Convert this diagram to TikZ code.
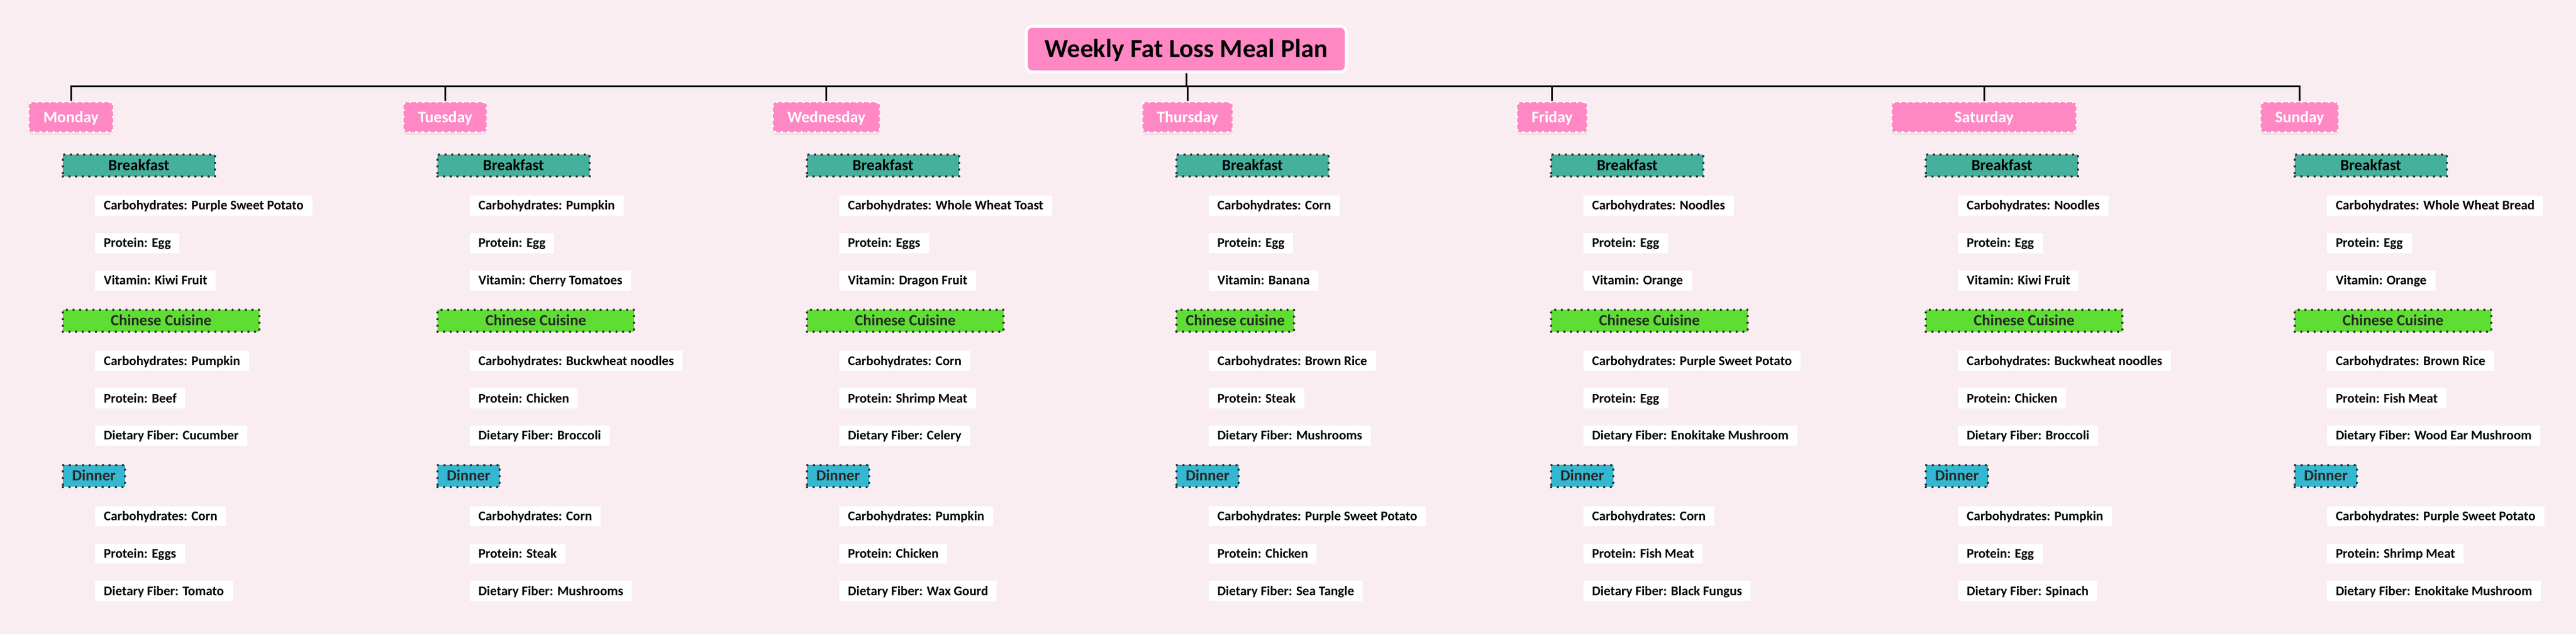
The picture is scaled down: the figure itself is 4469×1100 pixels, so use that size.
\documentclass[tikz,border=0pt]{standalone}
\usepackage{fontspec}
\setmainfont{Carlito}
\usetikzlibrary{positioning,shadows}
\definecolor{mybg}{RGB}{250,237,241}
\definecolor{mypink}{RGB}{255,136,196}
\definecolor{myteal}{RGB}{69,176,156}
\definecolor{mygreen}{RGB}{94,221,50}
\definecolor{mycyan}{RGB}{52,183,208}
\definecolor{mydots}{RGB}{43,43,43}
\definecolor{mytxt}{RGB}{40,40,40}
\tikzstyle{root}=[draw=white,fill=mypink,line width=5pt,rounded corners=10pt,font=\bfseries\fontsize{45pt}{50pt}\selectfont,minimum height=79pt,inner xsep=32pt,inner ysep=0pt,text height=29pt,text depth=0pt]
\tikzstyle{day}=[draw=white,fill=mypink,line width=4pt,dash pattern=on 0pt off 11.5pt,line cap=round,rounded corners=6pt,text=white,font=\bfseries\fontsize{28pt}{32pt}\selectfont,minimum height=52pt,inner xsep=25pt,inner ysep=0pt,text height=18pt,text depth=0pt,drop shadow={opacity=0.10,shadow xshift=0pt,shadow yshift=-5pt}]
\tikzstyle{meal}=[draw=mydots,line width=4pt,dash pattern=on 0pt off 11.5pt,line cap=round,font=\bfseries\fontsize{27pt}{31pt}\selectfont,minimum height=38pt,inner xsep=16pt,inner ysep=0pt,text height=17pt,text depth=0pt]
\tikzstyle{bfast}=[meal,fill=myteal,minimum width=264pt,text=black]
\tikzstyle{lunch}=[meal,fill=mygreen,minimum width=341pt,text=mytxt]
\tikzstyle{dinner}=[meal,fill=mycyan,text=mytxt]
\tikzstyle{item}=[fill=white,font=\bfseries\fontsize{23pt}{27pt}\selectfont,minimum height=34.5pt,inner xsep=15pt,inner ysep=0pt,text height=15pt,text depth=0pt]
\tikzstyle{link}=[draw,line width=3pt]
% one meal box with its three items under it
\newcommand{\meal}[6]{%
  \node[#2] (#1) {#3};
  \node[item,below=31pt of #1.south west,anchor=north west,xshift=58pt] (#1a) {#4};
  \node[item,below=30pt of #1a.south west,anchor=north west] (#1b) {#5};
  \node[item,below=30pt of #1b.south west,anchor=north west] (#1c) {#6};
}
\begin{document}
\begin{tikzpicture}[x=1pt,y=-1pt]
\fill[mybg] (0,0) rectangle (4469,1100);
\node[root] (root) at (2058,85) {Weekly Fat Loss Meal Plan};
% days
\node[day,anchor=west] (mon) at (48,203) {Monday};
\node[day,anchor=west] (tue) at (698,203) {Tuesday};
\node[day,anchor=west] (wed) at (1339,203) {Wednesday};
\node[day,anchor=west] (thu) at (1980,203) {Thursday};
\node[day,anchor=west] (fri) at (2630,203) {Friday};
\node[day,anchor=west,minimum width=320pt] (sat) at (3280,203) {Saturday};
\node[day,anchor=west] (sun) at (3920,203) {Sunday};
% connectors
\coordinate (bus) at (0,149);
\draw[link] (root.south) -- (root.south |- bus);
\draw[link] (mon.north) |- (sun.north |- bus) -- (sun.north);
\foreach \d in {tue,wed,thu,fri,sat}
  \draw[link] (\d.north |- bus) -- (\d.north);
% Monday
\meal{monB}{bfast,below=35pt of mon.south west,anchor=north west,xshift=59pt}{Breakfast}
  {Carbohydrates: Purple Sweet Potato}{Protein: Egg}{Vitamin: Kiwi Fruit}
\meal{monL}{lunch,below=31.5pt of monBc.south west,anchor=north west,xshift=-58pt}{Chinese Cuisine}
  {Carbohydrates: Pumpkin}{Protein: Beef}{Dietary Fiber: Cucumber}
\meal{monD}{dinner,below=31.5pt of monLc.south west,anchor=north west,xshift=-58pt}{Dinner}
  {Carbohydrates: Corn}{Protein: Eggs}{Dietary Fiber: Tomato}
% Tuesday
\meal{tueB}{bfast,below=35pt of tue.south west,anchor=north west,xshift=59pt}{Breakfast}
  {Carbohydrates: Pumpkin}{Protein: Egg}{Vitamin: Cherry Tomatoes}
\meal{tueL}{lunch,below=31.5pt of tueBc.south west,anchor=north west,xshift=-58pt}{Chinese Cuisine}
  {Carbohydrates: Buckwheat noodles}{Protein: Chicken}{Dietary Fiber: Broccoli}
\meal{tueD}{dinner,below=31.5pt of tueLc.south west,anchor=north west,xshift=-58pt}{Dinner}
  {Carbohydrates: Corn}{Protein: Steak}{Dietary Fiber: Mushrooms}
% Wednesday
\meal{wedB}{bfast,below=35pt of wed.south west,anchor=north west,xshift=59pt}{Breakfast}
  {Carbohydrates: Whole Wheat Toast}{Protein: Eggs}{Vitamin: Dragon Fruit}
\meal{wedL}{lunch,below=31.5pt of wedBc.south west,anchor=north west,xshift=-58pt}{Chinese Cuisine}
  {Carbohydrates: Corn}{Protein: Shrimp Meat}{Dietary Fiber: Celery}
\meal{wedD}{dinner,below=31.5pt of wedLc.south west,anchor=north west,xshift=-58pt}{Dinner}
  {Carbohydrates: Pumpkin}{Protein: Chicken}{Dietary Fiber: Wax Gourd}
% Thursday
\meal{thuB}{bfast,below=35pt of thu.south west,anchor=north west,xshift=59pt}{Breakfast}
  {Carbohydrates: Corn}{Protein: Egg}{Vitamin: Banana}
\meal{thuL}{lunch,minimum width=0pt,below=31.5pt of thuBc.south west,anchor=north west,xshift=-58pt}{Chinese cuisine}
  {Carbohydrates: Brown Rice}{Protein: Steak}{Dietary Fiber: Mushrooms}
\meal{thuD}{dinner,below=31.5pt of thuLc.south west,anchor=north west,xshift=-58pt}{Dinner}
  {Carbohydrates: Purple Sweet Potato}{Protein: Chicken}{Dietary Fiber: Sea Tangle}
% Friday
\meal{friB}{bfast,below=35pt of fri.south west,anchor=north west,xshift=59pt}{Breakfast}
  {Carbohydrates: Noodles}{Protein: Egg}{Vitamin: Orange}
\meal{friL}{lunch,below=31.5pt of friBc.south west,anchor=north west,xshift=-58pt}{Chinese Cuisine}
  {Carbohydrates: Purple Sweet Potato}{Protein: Egg}{Dietary Fiber: Enokitake Mushroom}
\meal{friD}{dinner,below=31.5pt of friLc.south west,anchor=north west,xshift=-58pt}{Dinner}
  {Carbohydrates: Corn}{Protein: Fish Meat}{Dietary Fiber: Black Fungus}
% Saturday
\meal{satB}{bfast,below=35pt of sat.south west,anchor=north west,xshift=59pt}{Breakfast}
  {Carbohydrates: Noodles}{Protein: Egg}{Vitamin: Kiwi Fruit}
\meal{satL}{lunch,below=31.5pt of satBc.south west,anchor=north west,xshift=-58pt}{Chinese Cuisine}
  {Carbohydrates: Buckwheat noodles}{Protein: Chicken}{Dietary Fiber: Broccoli}
\meal{satD}{dinner,below=31.5pt of satLc.south west,anchor=north west,xshift=-58pt}{Dinner}
  {Carbohydrates: Pumpkin}{Protein: Egg}{Dietary Fiber: Spinach}
% Sunday
\meal{sunB}{bfast,below=35pt of sun.south west,anchor=north west,xshift=59pt}{Breakfast}
  {Carbohydrates: Whole Wheat Bread}{Protein: Egg}{Vitamin: Orange}
\meal{sunL}{lunch,below=31.5pt of sunBc.south west,anchor=north west,xshift=-58pt}{Chinese Cuisine}
  {Carbohydrates: Brown Rice}{Protein: Fish Meat}{Dietary Fiber: Wood Ear Mushroom}
\meal{sunD}{dinner,below=31.5pt of sunLc.south west,anchor=north west,xshift=-58pt}{Dinner}
  {Carbohydrates: Purple Sweet Potato}{Protein: Shrimp Meat}{Dietary Fiber: Enokitake Mushroom}
\end{tikzpicture}
\end{document}
